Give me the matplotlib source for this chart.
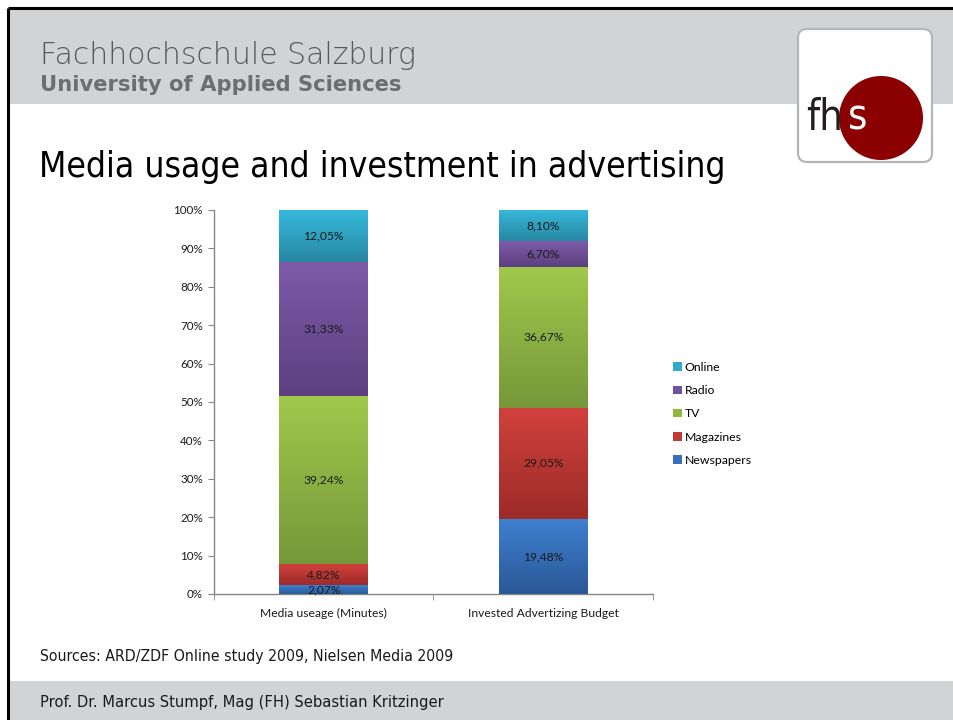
import numpy as np
import matplotlib
matplotlib.use("Agg")
import matplotlib.pyplot as plt
from matplotlib.patches import Rectangle, FancyBboxPatch, Circle, Patch
from matplotlib.colors import LinearSegmentedColormap

# data (raw values, the chart is 100% stacked)
categories = ["Media useage (Minutes)", "Invested Advertizing Budget"]
series = ["Newspapers", "Magazines", "TV", "Radio", "Online"]
newspapers = [2.07, 19.48]
magazines = [4.82, 29.05]
tv = [39.24, 36.67]
radio = [31.33, 6.70]
online = [12.05, 8.10]

# gradient (top, bottom) per series
grad = {
    "Newspapers": ("#3e80cf", "#2b5897"),
    "Magazines": ("#d2413c", "#9c2b29"),
    "TV": ("#a0c84b", "#76983a"),
    "Radio": ("#7d5ba8", "#5c4080"),
    "Online": ("#36b8db", "#2888a3"),
}
legend_col = {
    "Newspapers": "#3a70bb",
    "Magazines": "#c03a36",
    "TV": "#8fb842",
    "Radio": "#7152a0",
    "Online": "#32aacd",
}

values = np.array([newspapers, magazines, tv, radio, online])
totals = values.sum(axis=0)
shares = values / totals * 100

fig = plt.figure(figsize=(9.54, 7.2), dpi=100)

# background / slide decoration, 1 unit = 1 px
bg = fig.add_axes([0, 0, 1, 1], zorder=0)
bg.set_xlim(0, 954)
bg.set_ylim(720, 0)
bg.axis("off")
bg.add_patch(Rectangle((8, 8), 946, 712, facecolor="white", edgecolor="none"))
bg.add_patch(Rectangle((8, 8), 946, 96, facecolor="#d1d3d4", edgecolor="none"))
bg.add_patch(Rectangle((8, 681), 946, 39, facecolor="#d1d3d4", edgecolor="none"))
bg.plot([8, 954], [8, 8], color="black", lw=2.2, solid_capstyle="butt")
bg.plot([8, 8], [8, 720], color="black", lw=2.2, solid_capstyle="butt")

bg.text(40, 56, "Fachhochschule Salzburg", fontsize=21.5, family="DejaVu Sans",
        weight="light", color="#58595b", va="center", ha="left")
bg.text(40, 85, "University of Applied Sciences", fontsize=15.2, family="DejaVu Sans",
        weight="bold", color="#6d6e71", va="center", ha="left")
bg.text(39, 167, "Media usage and investment in advertising", fontsize=25.4,
        family="DejaVu Sans", stretch="condensed", color="black", va="center", ha="left")
bg.text(40, 657, "Sources: ARD/ZDF Online study 2009, Nielsen Media 2009", fontsize=11.3,
        family="DejaVu Sans", stretch="condensed", color="#1a1a1a", va="center", ha="left")
bg.text(40, 703, "Prof. Dr. Marcus Stumpf, Mag (FH) Sebastian Kritzinger", fontsize=11.8,
        family="DejaVu Sans", stretch="condensed", color="#1a1a1a", va="center", ha="left")

# logo
bg.add_patch(FancyBboxPatch((798, 29), 134, 133, boxstyle="round,pad=0,rounding_size=9",
                            facecolor="white", edgecolor="#b5b6b8", lw=1.6))
bg.add_patch(Circle((881, 118), 42, facecolor="#8b0000", edgecolor="none"))
bg.text(806, 130, "fh", fontsize=30, family="DejaVu Sans", stretch="condensed",
        color="#231f20", va="baseline", ha="left")
bg.text(848, 130, "s", fontsize=30, family="DejaVu Sans", stretch="condensed",
        color="white", va="baseline", ha="left")

# chart
ax = fig.add_axes([214 / 954, 1 - 594 / 720, 439 / 954, 384 / 720], zorder=1)
ax.patch.set_alpha(0)
x = np.arange(len(categories))
width = 0.405
bottom = np.zeros(len(categories))
for i, name in enumerate(series):
    bars = ax.bar(x, shares[i], width, bottom=bottom, color=legend_col[name],
                  label=name, zorder=2)
    cmap = LinearSegmentedColormap.from_list(name, [grad[name][1], grad[name][0]])
    for j, rect in enumerate(bars):
        x0, y0 = rect.get_x(), rect.get_y()
        im = ax.imshow(np.linspace(0, 1, 64).reshape(-1, 1), cmap=cmap, origin="lower",
                       extent=[x0, x0 + rect.get_width(), y0, y0 + rect.get_height()],
                       aspect="auto", zorder=3)
        im.set_clip_path(rect)
        ax.text(x[j], y0 + rect.get_height() / 2, f"{values[i][j]:.2f}%".replace(".", ","),
                ha="center", va="center", fontsize=8.7, family="Lato", color="#1a1a1a",
                zorder=4)
    bottom += shares[i]

ax.set_xlim(-0.5, 1.5)
ax.set_ylim(0, 100)
ax.set_yticks(np.arange(0, 101, 10))
ax.set_yticklabels([f"{v}%" for v in range(0, 101, 10)], family="Lato", fontsize=8.4,
                   color="#1a1a1a")
ax.set_xticks(x)
ax.set_xticklabels(categories, family="Lato", fontsize=8.7, color="#1a1a1a")
ax.set_xticks([-0.5, 0.5, 1.5], minor=True)
ax.tick_params(axis="x", which="major", length=0, pad=10)
ax.tick_params(axis="x", which="minor", length=4, color="#868686", direction="out")
ax.tick_params(axis="y", length=4, color="#868686", pad=4)
for s in ["top", "right"]:
    ax.spines[s].set_visible(False)
for s in ["left", "bottom"]:
    ax.spines[s].set_color("#868686")
    ax.spines[s].set_linewidth(1)

handles = [Patch(facecolor=legend_col[n], edgecolor="none") for n in series][::-1]
leg = fig.legend(handles, series[::-1], loc="upper left",
                 bbox_to_anchor=(673 / 954, 1 - 362 / 720), frameon=False,
                 prop={"family": "Lato", "size": 8.8}, handlelength=0.7,
                 handleheight=0.7, handletextpad=0.25, labelspacing=1.0,
                 borderaxespad=0, borderpad=0)

fig.savefig("out.png", dpi=100)
